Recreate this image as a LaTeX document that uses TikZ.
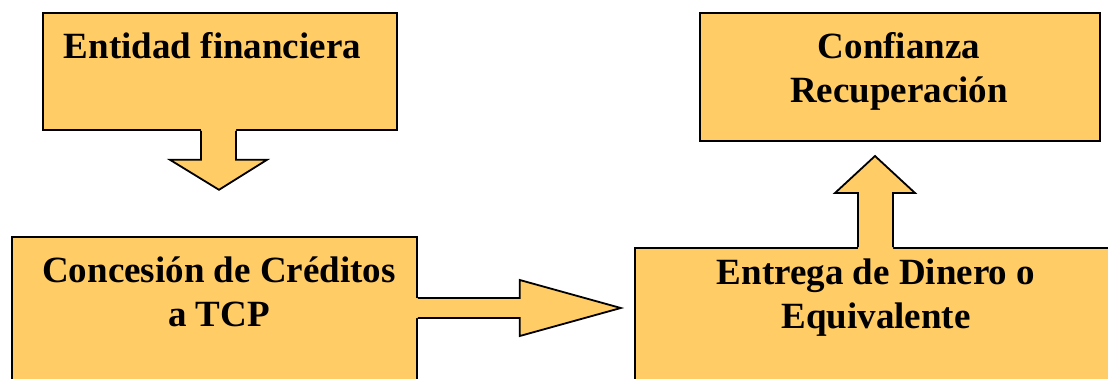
\documentclass[tikz,border=0pt]{standalone}
\usepackage{fontspec}
\setmainfont{Liberation Serif}
\usetikzlibrary{calc}
\definecolor{boxfill}{HTML}{FFCC66}
\tikzset{
  box/.style={draw=black, fill=boxfill, line width=1.8pt, rectangle, inner sep=0pt, anchor=north west},
  lbl/.style={font=\fontsize{37}{44}\selectfont\bfseries, align=center, inner sep=0pt, anchor=base},
  bfill/.style={fill=boxfill},
  bedge/.style={draw=black, line width=1.8pt, line join=miter}
}
\begin{document}
\begin{tikzpicture}[x=1pt,y=-1pt]
\useasboundingbox (0,0) rectangle (1108,378);
\clip (0,0) rectangle (1108,378);
% boxes
\node[box, minimum width=354pt, minimum height=117pt] (b1) at (42,12) {};
\node[box, minimum width=405pt, minimum height=200pt] (b2) at (11,236) {};
\node[box, minimum width=490pt, minimum height=200pt] (b3) at (634,247) {};
\node[box, minimum width=400pt, minimum height=128pt] (b4) at (699,12) {};
% down block arrow b1 -> b2
\fill[bfill] ($(b1.south west)+(159,-3)$) -- ($(b1.south west)+(159,29)$) -- ($(b1.south west)+(128,29)$)
  -- ($(b1.south west)+(177,59)$) -- ($(b1.south west)+(225,29)$) -- ($(b1.south west)+(194,29)$)
  -- ($(b1.south west)+(194,-3)$) -- cycle;
\draw[bedge] ($(b1.south west)+(159,0)$) -- ($(b1.south west)+(159,29)$) -- ($(b1.south west)+(128,29)$)
  -- ($(b1.south west)+(177,59)$) -- ($(b1.south west)+(225,29)$) -- ($(b1.south west)+(194,29)$)
  -- ($(b1.south west)+(194,0)$);
% right block arrow b2 -> b3
\fill[bfill] ($(b2.north east)+(-3,62)$) -- ($(b2.north east)+(102,62)$) -- ($(b2.north east)+(102,44)$)
  -- ($(b2.north east)+(203,72)$) -- ($(b2.north east)+(102,100)$) -- ($(b2.north east)+(102,82)$)
  -- ($(b2.north east)+(-3,82)$) -- cycle;
\draw[bedge] ($(b2.north east)+(0,62)$) -- ($(b2.north east)+(102,62)$) -- ($(b2.north east)+(102,44)$)
  -- ($(b2.north east)+(203,72)$) -- ($(b2.north east)+(102,100)$) -- ($(b2.north east)+(102,82)$)
  -- ($(b2.north east)+(0,82)$);
% up block arrow b3 -> b4
\fill[bfill] ($(b3.north west)+(224,3)$) -- ($(b3.north west)+(224,-54)$) -- ($(b3.north west)+(201,-54)$)
  -- ($(b3.north west)+(241,-91)$) -- ($(b3.north west)+(281,-54)$) -- ($(b3.north west)+(259,-54)$)
  -- ($(b3.north west)+(259,3)$) -- cycle;
\draw[bedge] ($(b3.north west)+(224,0)$) -- ($(b3.north west)+(224,-54)$) -- ($(b3.north west)+(201,-54)$)
  -- ($(b3.north west)+(241,-91)$) -- ($(b3.north west)+(281,-54)$) -- ($(b3.north west)+(259,-54)$)
  -- ($(b3.north west)+(259,0)$);
% labels (base anchor = baseline of last line)
\node[lbl] (t1) at (212.5,58) {Entidad financiera};
\node[lbl] (t2) at (219,326) {Concesión de Créditos\\a TCP};
\node[lbl] (t3) at (876,328) {Entrega de Dinero o\\Equivalente};
\node[lbl] (t4) at (899,102) {Confianza\\Recuperación};
\end{tikzpicture}
\end{document}
